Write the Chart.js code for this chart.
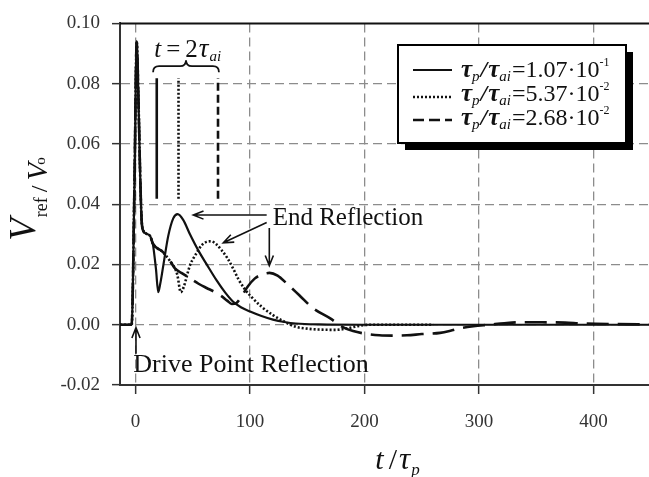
<!DOCTYPE html>
<html>
<head>
<meta charset="utf-8">
<script src="https://cdn.jsdelivr.net/npm/chart.js@4.4.1/dist/chart.umd.min.js"></script>
<style>
  html, body { margin: 0; padding: 0; background: #fff; }
  #wrap { width: 649px; height: 477px; }
</style>
</head>
<body>
<div id="wrap"><canvas id="refChart"></canvas></div>
<script>
// x = t/tau_p, y = V_ref/V_o

// drive point pulse, same for all three runs
const pulseX = [-13.6, -3.4, -1, 1, 2.5, 4, 5.4, 7, 9.5, 12.6, 15];
const pulseY = [0, 0, 0.046, 0.094, 0.075, 0.05, 0.034, 0.031, 0.0302, 0.0295, 0.027];

// tau_p/tau_ai = 1.07e-1 (solid)
const solidX = [17.8, 19.8, 21.5, 24.2, 28.5, 32.9, 36.7, 41.6, 47.5, 55, 62, 70.8, 78, 85, 92, 100, 110, 120, 130, 140, 160, 200, 448.4];
const solidY = [0.0185, 0.0108, 0.0135, 0.0196, 0.0294, 0.0353, 0.0367, 0.0348, 0.030, 0.0245, 0.0201, 0.0147, 0.0108, 0.0077, 0.0058, 0.0044, 0.0029, 0.0017, 0.0009, 0.0004, 0.0001, 0, 0];

// shared decay of the two slower runs before their own reflection
const decayX = [24.2, 30, 34.4];
const decayY = [0.024, 0.0212, 0.0187];

// tau_p/tau_ai = 5.37e-2 (dotted)
const dottedX = [36.5, 39.5, 42, 47.5, 53.3, 58, 62, 66, 70.8, 75, 80, 85, 90, 95, 100, 110, 120, 130, 140, 150, 160, 175, 185, 195, 205, 260];
const dottedY = [0.0165, 0.0108, 0.0125, 0.0197, 0.0238, 0.0265, 0.0275, 0.0277, 0.0266, 0.0248, 0.0222, 0.0188, 0.015, 0.012, 0.0097, 0.006, 0.0032, 0.001, -0.0007, -0.0013, -0.0016, -0.0017, -0.0012, -0.0004, 0, 0];

// tau_p/tau_ai = 2.68e-2 (dashed)
const dashedX = [40, 46, 55, 62, 69, 75, 80, 84, 88, 93, 98, 104, 110, 117, 124, 132, 143, 155, 170, 181, 190, 201, 213, 225, 237, 250, 266, 275, 283, 295, 309, 322, 335, 355, 375, 390, 420, 448.4];
const dashedY = [0.0172, 0.0158, 0.0136, 0.0122, 0.0109, 0.0095, 0.008, 0.0069, 0.0072, 0.0097, 0.0127, 0.0153, 0.0166, 0.0172, 0.0163, 0.0137, 0.0098, 0.0055, 0.0021, -0.0008, -0.0021, -0.003, -0.0035, -0.0036, -0.0035, -0.0031, -0.0027, -0.002, -0.0012, -0.0005, 0, 0.0005, 0.0008, 0.0008, 0.0007, 0.0004, 0.0002, 0.0001];

// t = 2 tau_ai markers
const markerX = [18.5, 37.5, 72];
const markerY = [0.0418, 0.0818];

const legendRatio = ['1.07', '5.37', '2.68'];
const legendExp = ['-1', '-2', '-2'];

const xTicks = [0, 100, 200, 300, 400];
const yTicks = [-0.02, 0, 0.02, 0.04, 0.06, 0.08, 0.10];

const SERIF = '"Liberation Serif", "Times New Roman", serif';
const INK = '#111';

function toPts(xs, ys) {
    return xs.map((x, i) => ({ x: x, y: ys[i] }));
}

const solidPts = toPts(pulseX, pulseY).concat(toPts(solidX, solidY));
const dottedPts = toPts(pulseX, pulseY).concat(toPts(decayX, decayY), toPts(dottedX, dottedY));
const dashedPts = toPts(pulseX, pulseY).concat(toPts(decayX, decayY), toPts(dashedX, dashedY));

const styles = [
    { dash: [], width: 2.2 },
    { dash: [2, 2], width: 2.6 },
    { dash: [22, 9], width: 2.6 }
];

function curve(pts, st) {
    return {
        data: pts,
        borderColor: INK,
        borderWidth: st.width,
        borderDash: st.dash,
        pointRadius: 0,
        fill: false,
        cubicInterpolationMode: 'monotone'
    };
}

function marker(x, dash) {
    return {
        data: [{ x: x, y: markerY[0] }, { x: x, y: markerY[1] }],
        borderColor: INK,
        borderWidth: 2.6,
        borderDash: dash,
        pointRadius: 0,
        fill: false
    };
}

function drawRuns(ctx, x, y, runs) {
    let cx = x;
    runs.forEach(r => {
        ctx.font = r.font;
        if (r.t) ctx.fillText(r.t, cx, y + (r.dy || 0));
        cx += (r.t ? ctx.measureText(r.t).width : 0) + (r.gap || 0);
    });
    return cx - x;
}

function runsWidth(ctx, runs) {
    let w = 0;
    runs.forEach(r => {
        ctx.font = r.font;
        w += (r.t ? ctx.measureText(r.t).width : 0) + (r.gap || 0);
    });
    return w;
}

function arrow(ctx, x1, y1, x2, y2) {
    const a = Math.atan2(y2 - y1, x2 - x1);
    const L = 11, s = 0.38;
    ctx.beginPath();
    ctx.moveTo(x1, y1);
    ctx.lineTo(x2, y2);
    ctx.moveTo(x2 - L * Math.cos(a - s), y2 - L * Math.sin(a - s));
    ctx.lineTo(x2, y2);
    ctx.lineTo(x2 - L * Math.cos(a + s), y2 - L * Math.sin(a + s));
    ctx.stroke();
}

const extras = {
    id: 'extras',
    afterDatasetsDraw(chart) {
        const ctx = chart.ctx;
        const xs = chart.scales.x, ys = chart.scales.y;
        const X = v => xs.getPixelForValue(v);
        const Y = v => ys.getPixelForValue(v);
        const area = chart.chartArea;
        ctx.save();
        ctx.fillStyle = INK;
        ctx.strokeStyle = INK;
        ctx.textBaseline = 'alphabetic';
        ctx.textAlign = 'left';

        // top frame line
        ctx.lineWidth = 2;
        ctx.beginPath();
        ctx.moveTo(area.left, area.top);
        ctx.lineTo(area.right, area.top);
        ctx.stroke();

        // brace over the markers
        const xl = X(15.3), xr = X(72.8), xm = (xl + xr) / 2, yb = Y(0.0858), d = 6;
        ctx.lineWidth = 1.8;
        ctx.beginPath();
        ctx.moveTo(xl, yb + d);
        ctx.quadraticCurveTo(xl, yb, xl + d, yb);
        ctx.lineTo(xm - d, yb);
        ctx.quadraticCurveTo(xm, yb, xm, yb - d);
        ctx.quadraticCurveTo(xm, yb, xm + d, yb);
        ctx.lineTo(xr - d, yb);
        ctx.quadraticCurveTo(xr, yb, xr, yb + d);
        ctx.stroke();

        drawRuns(ctx, X(16.3), Y(0.089), [
            { t: 't', font: 'italic 25px ' + SERIF, gap: 5 },
            { t: '=', font: '25px ' + SERIF, gap: 5 },
            { t: '2', font: '25px ' + SERIF, gap: 1 },
            { t: '\u03c4', font: 'italic 27px ' + SERIF, gap: 1 },
            { t: 'ai', font: 'italic 15px ' + SERIF, dy: 4 }
        ]);

        // End Reflection
        ctx.font = '25px ' + SERIF;
        ctx.fillText('End Reflection', X(119.7), Y(0.0332));
        ctx.lineWidth = 1.6;
        arrow(ctx, X(114.5), Y(0.0364), X(50.4), Y(0.0364));
        arrow(ctx, X(114.5), Y(0.0339), X(76.6), Y(0.0272));
        arrow(ctx, X(116.8), Y(0.0321), X(116.8), Y(0.0196));

        // Drive Point Reflection
        ctx.font = '26px ' + SERIF;
        ctx.fillText('Drive Point Reflection', X(-2), Y(-0.0158));
        arrow(ctx, X(0.35), Y(-0.0096), X(0.35), Y(-0.001));

        // legend box with shadow
        const bx = 398, by = 45, bw = 228, bh = 98;
        ctx.fillStyle = '#000';
        ctx.fillRect(bx + 7, by + 7, bw, bh);
        ctx.fillStyle = '#fff';
        ctx.fillRect(bx, by, bw, bh);
        ctx.lineWidth = 2;
        ctx.strokeStyle = '#000';
        ctx.strokeRect(bx, by, bw, bh);
        ctx.fillStyle = INK;
        ctx.strokeStyle = INK;
        const rowBase = [77, 101, 125];
        const lineY = [70, 97, 120];
        legendRatio.forEach((r, i) => {
            ctx.lineWidth = styles[i].width;
            ctx.setLineDash(i === 2 ? [11, 5] : styles[i].dash);
            ctx.beginPath();
            ctx.moveTo(413, lineY[i]);
            ctx.lineTo(452, lineY[i]);
            ctx.stroke();
            ctx.setLineDash([]);
            drawRuns(ctx, 461, rowBase[i], [
                { t: '\u03c4', font: 'bold italic 25px ' + SERIF },
                { t: 'p', font: 'italic 15px ' + SERIF, dy: 4, gap: 1 },
                { t: '/', font: 'bold italic 24px ' + SERIF, gap: 1 },
                { t: '\u03c4', font: 'bold italic 25px ' + SERIF },
                { t: 'ai', font: 'italic 15px ' + SERIF, dy: 4, gap: 1 },
                { t: '=' + r + '\u00b710', font: '24px ' + SERIF },
                { t: legendExp[i], font: '12px ' + SERIF, dy: -11 }
            ]);
        });

        // x axis title
        const xRuns = [
            { t: 't', font: 'italic 30px ' + SERIF, gap: 5 },
            { t: '/', font: '30px ' + SERIF, gap: 2 },
            { t: '\u03c4', font: 'italic 31px ' + SERIF, gap: 1 },
            { t: 'p', font: 'italic 17px ' + SERIF, dy: 6 }
        ];
        drawRuns(ctx, 397.5 - runsWidth(ctx, xRuns) / 2, 469, xRuns);

        // y axis title, rotated
        const yRuns = [
            { t: 'V', font: 'italic 37px ' + SERIF, dy: -12, gap: 1 },
            { t: 'ref', font: '18px ' + SERIF, gap: 5 },
            { t: '/', font: '24px ' + SERIF, gap: 5 },
            { t: 'V', font: 'italic 29px ' + SERIF, gap: -2 },
            { t: 'o', font: '15px ' + SERIF, dy: -2 }
        ];
        ctx.translate(47, 199);
        ctx.rotate(-Math.PI / 2);
        drawRuns(ctx, -runsWidth(ctx, yRuns) / 2, 0, yRuns);
        ctx.restore();
    }
};

new Chart(document.getElementById('refChart'), {
    type: 'line',
    data: {
        datasets: [
            curve(solidPts, styles[0]),
            curve(dottedPts, styles[1]),
            curve(dashedPts, styles[2]),
            marker(markerX[0], []),
            marker(markerX[1], [2, 2]),
            marker(markerX[2], [8, 4])
        ]
    },
    options: {
        responsive: true,
        maintainAspectRatio: false,
        animation: false,
        layout: { padding: { top: 17, right: 0, left: 0, bottom: 0 } },
        plugins: {
            legend: { display: false },
            tooltip: { enabled: false },
            title: { display: false }
        },
        scales: {
            x: {
                type: 'linear',
                min: -13.6,
                max: 448.4,
                afterBuildTicks: s => { s.ticks = xTicks.map(v => ({ value: v })); },
                afterFit: s => { s.height = 92; },
                ticks: {
                    includeBounds: false,
                    maxRotation: 0,
                    color: '#333',
                    padding: 17,
                    font: { family: SERIF, size: 19 }
                },
                grid: {
                    color: '#8c8c8c',
                    lineWidth: 1.3,
                    tickColor: '#333',
                    tickLength: 9,
                    tickWidth: 1.5
                },
                border: { color: '#333', width: 2, dash: [9, 5] }
            },
            y: {
                min: -0.02,
                max: 0.10,
                afterBuildTicks: s => { s.ticks = yTicks.map(v => ({ value: v })); },
                afterFit: s => { s.width = 120; },
                ticks: {
                    color: '#333',
                    padding: 12,
                    font: { family: SERIF, size: 19 },
                    callback: v => v.toFixed(2)
                },
                grid: {
                    color: ctx => (ctx.tick && (ctx.tick.value <= -0.02 || ctx.tick.value >= 0.1)) ? 'rgba(0,0,0,0)' : '#8c8c8c',
                    lineWidth: 1.3,
                    tickColor: '#333',
                    tickLength: 8,
                    tickWidth: 1.5
                },
                border: { color: '#333', width: 2, dash: [9, 5] }
            }
        }
    },
    plugins: [extras]
});
</script>
</body>
</html>
